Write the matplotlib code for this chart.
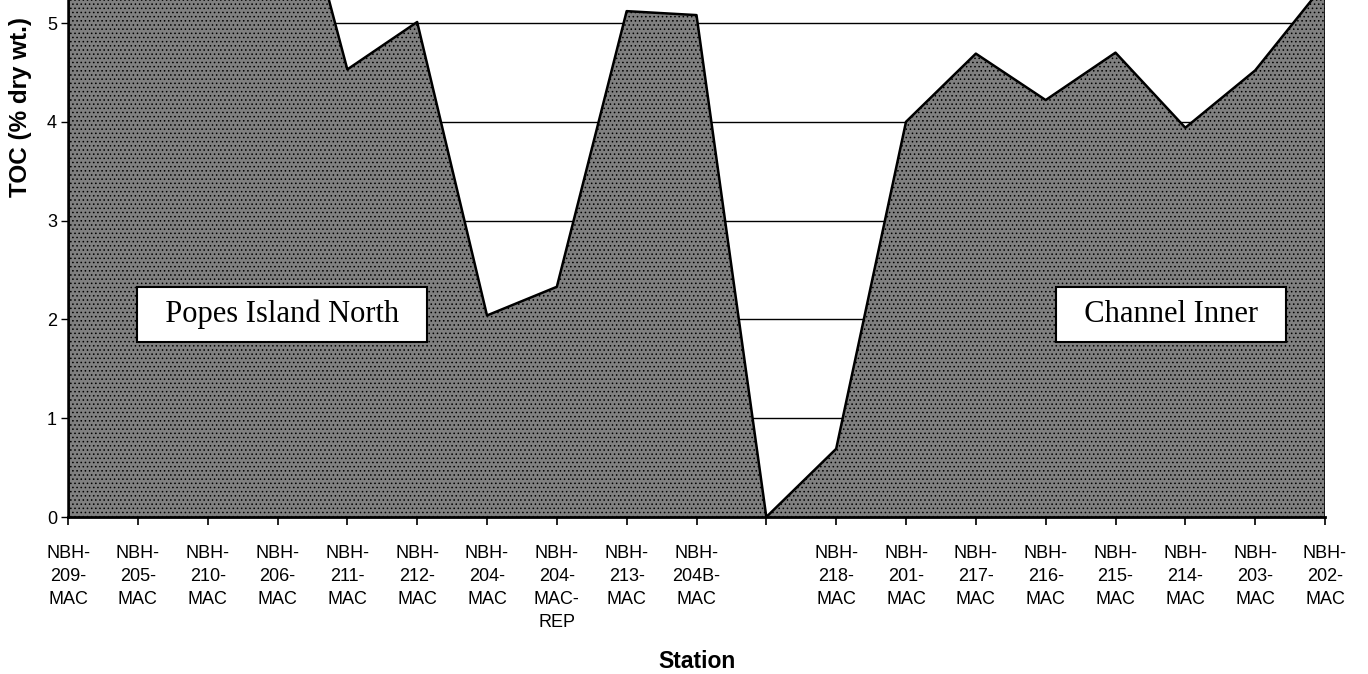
import numpy as np
import matplotlib.pyplot as plt

# stations along the x axis; the blank one is the gap between the two areas
stations = ['NBH-\n209-\nMAC', 'NBH-\n205-\nMAC', 'NBH-\n210-\nMAC', 'NBH-\n206-\nMAC',
            'NBH-\n211-\nMAC', 'NBH-\n212-\nMAC', 'NBH-\n204-\nMAC', 'NBH-\n204-\nMAC-\nREP',
            'NBH-\n213-\nMAC', 'NBH-\n204B-\nMAC', '',
            'NBH-\n218-\nMAC', 'NBH-\n201-\nMAC', 'NBH-\n217-\nMAC', 'NBH-\n216-\nMAC',
            'NBH-\n215-\nMAC', 'NBH-\n214-\nMAC', 'NBH-\n203-\nMAC', 'NBH-\n202-\nMAC']

# TOC (% dry wt.); the first four run off the top of the page
toc = [6.3, 6.6, 6.9, 7.2, 4.53, 5.01, 2.04, 2.33, 5.12, 5.08, 0.0,
       0.69, 4.0, 4.69, 4.22, 4.70, 3.94, 4.52, 5.4]

areas = ['Popes Island North', 'Channel Inner']
area_x = [3.06, 15.8]
area_y = [2.05, 2.05]

plt.rcParams['font.family'] = ['Liberation Sans', 'DejaVu Sans']
plt.rcParams['hatch.linewidth'] = 0.6

W, H = 1368, 674
fig = plt.figure(figsize=(W / 100, H / 100), dpi=100)
# axes runs above the top of the (cropped) page
ax = fig.add_axes([68 / W, (H - 517) / H, 1257 / W, 8 * 98.8 / H])

x = np.arange(len(stations))
ax.fill_between(x, toc, 0, facecolor='#808080', edgecolor='black',
                hatch='....', linewidth=0, zorder=2)
ax.plot(x, toc, color='black', lw=1.8, zorder=3)
ax.plot([0, 0], [0, toc[0]], color='black', lw=1.8, zorder=3)
ax.plot([x[-1], x[-1]], [0, toc[-1]], color='black', lw=1.8, zorder=3)

ax.set_xlim(0, len(stations) - 1)
ax.set_ylim(0, 8)
ax.set_yticks(range(0, 6))
for g in range(1, 9):
    ax.axhline(g, color='black', lw=1.0, zorder=0)

ax.set_xticks(x)
ax.set_xticklabels(stations, fontsize=13, linespacing=1.47, va='top')
ax.tick_params(axis='x', direction='out', length=6, width=1.2, pad=14)
ax.tick_params(axis='y', direction='out', length=5, width=1.0, labelsize=13, pad=3)

for s in ['top', 'right']:
    ax.spines[s].set_visible(False)
ax.spines['left'].set_linewidth(1.8)
ax.spines['bottom'].set_linewidth(2.0)
ax.spines['bottom'].set_zorder(4)

ax.set_ylabel('TOC (% dry wt.)', fontsize=17.5, fontweight='bold')
ax.yaxis.set_label_coords(-0.029, 0.519)
ax.set_xlabel('Station', fontsize=16.5, fontweight='bold')
ax.xaxis.set_label_coords(0.5, -0.168)

for name, xa, ya in zip(areas, area_x, area_y):
    ax.text(xa, ya, '  ' + name + '  ', fontsize=22, family='Liberation Serif',
            ha='center', va='center', zorder=5,
            bbox=dict(boxstyle='square,pad=0.42', facecolor='white',
                      edgecolor='black', lw=1.5))

fig.savefig('out.png', dpi=100)
